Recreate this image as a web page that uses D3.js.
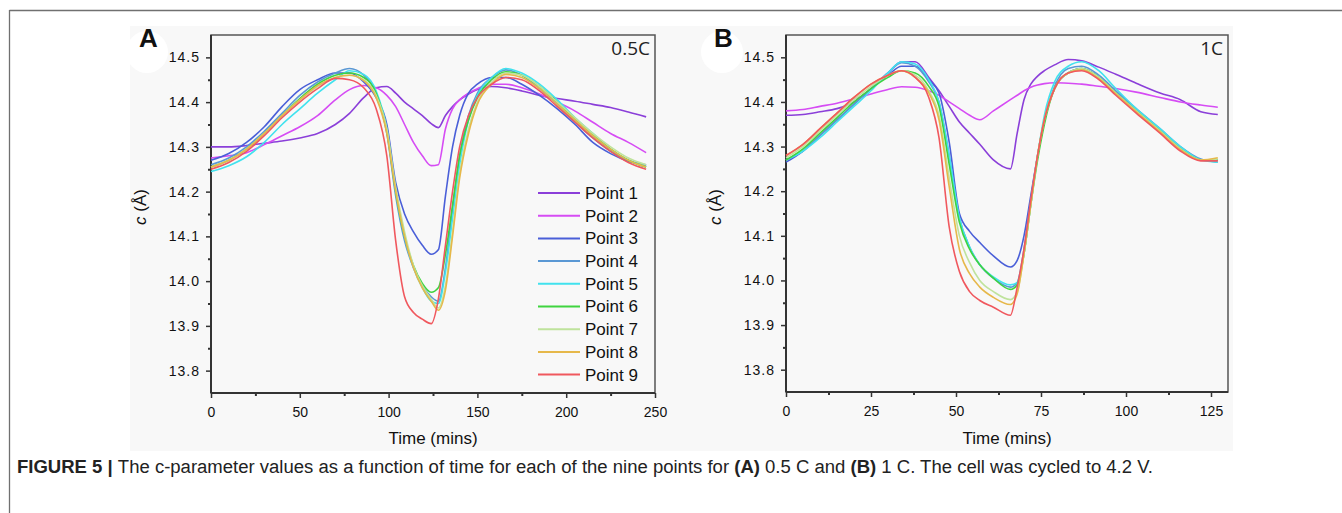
<!DOCTYPE html>
<html>
<head>
<meta charset="utf-8">
<script src="https://cdn.jsdelivr.net/npm/d3@7"></script>
<style>
  body { margin: 0; background: #fff; }
  svg { display: block; font-family: Arial, "Liberation Sans", sans-serif; }
</style>
</head>
<body>
<div id="chart"></div>
<script>
// ---- data ----
var seriesNames = ["Point 1", "Point 2", "Point 3", "Point 4", "Point 5", "Point 6", "Point 7", "Point 8", "Point 9"];
var seriesColors = ["#8b3fd9", "#d64cf4", "#4a5fd8", "#5a98d4", "#41e2ee", "#3fd43f", "#bfe39c", "#e6b84a", "#f0585e"];

var yTicks = [13.8, 13.9, 14.0, 14.1, 14.2, 14.3, 14.4, 14.5];
var xTicksA = [0, 50, 100, 150, 200, 250];
var xTicksB = [0, 25, 50, 75, 100, 125];

// panel A, 0.5C (time in mins)
var timeA = [0, 10, 20, 30, 40, 50, 60, 70, 78, 86, 93, 99, 104, 109, 114, 119, 124, 128, 132, 136, 140, 145, 150, 158, 166, 175, 185, 195, 205, 215, 225, 235, 245];
var cA = [
  [14.300,14.300,14.303,14.308,14.313,14.320,14.330,14.350,14.375,14.410,14.432,14.435,14.420,14.400,14.385,14.370,14.352,14.343,14.370,14.390,14.405,14.418,14.428,14.435,14.432,14.425,14.415,14.408,14.402,14.395,14.388,14.378,14.367],
  [14.275,14.280,14.287,14.305,14.325,14.345,14.370,14.405,14.428,14.437,14.432,14.415,14.390,14.350,14.310,14.280,14.258,14.260,14.340,14.385,14.405,14.420,14.430,14.440,14.440,14.432,14.418,14.400,14.380,14.355,14.330,14.310,14.287],
  [14.270,14.285,14.310,14.345,14.390,14.428,14.450,14.465,14.465,14.445,14.410,14.350,14.220,14.150,14.110,14.080,14.060,14.070,14.190,14.300,14.370,14.420,14.440,14.455,14.455,14.440,14.415,14.385,14.350,14.310,14.285,14.268,14.260],
  [14.260,14.275,14.300,14.335,14.375,14.415,14.445,14.465,14.475,14.460,14.420,14.330,14.190,14.090,14.030,13.990,13.965,13.955,14.030,14.160,14.280,14.370,14.420,14.455,14.472,14.460,14.430,14.395,14.355,14.320,14.290,14.270,14.258],
  [14.245,14.258,14.278,14.310,14.350,14.385,14.420,14.450,14.470,14.462,14.425,14.340,14.200,14.100,14.030,13.985,13.955,13.950,14.020,14.140,14.260,14.360,14.415,14.455,14.475,14.465,14.440,14.405,14.365,14.330,14.295,14.270,14.255],
  [14.255,14.270,14.295,14.330,14.370,14.408,14.440,14.460,14.465,14.455,14.420,14.335,14.200,14.100,14.035,13.995,13.975,13.985,14.060,14.170,14.280,14.360,14.410,14.450,14.468,14.460,14.435,14.400,14.360,14.325,14.295,14.270,14.255],
  [14.255,14.270,14.295,14.330,14.370,14.405,14.435,14.455,14.460,14.450,14.415,14.340,14.210,14.110,14.035,13.990,13.960,13.940,13.990,14.110,14.240,14.340,14.400,14.445,14.465,14.460,14.435,14.400,14.365,14.330,14.300,14.275,14.260],
  [14.255,14.270,14.295,14.330,14.370,14.405,14.437,14.455,14.460,14.448,14.410,14.330,14.200,14.100,14.030,13.985,13.955,13.935,13.980,14.100,14.230,14.330,14.395,14.440,14.462,14.455,14.430,14.395,14.360,14.325,14.295,14.270,14.255],
  [14.250,14.265,14.290,14.325,14.365,14.400,14.430,14.453,14.450,14.432,14.385,14.280,14.090,13.965,13.930,13.915,13.905,13.960,14.080,14.200,14.300,14.370,14.410,14.440,14.455,14.450,14.425,14.390,14.355,14.320,14.290,14.265,14.250]
];

// panel B, 1C (time in mins)
var timeB = [0, 5, 10, 15, 20, 25, 30, 34, 38, 42, 45, 48, 51, 54, 57, 61, 66, 68, 70, 72, 74, 76, 79, 83, 87, 92, 97, 103, 110, 116, 122, 127];
var cB = [
  [14.370,14.372,14.378,14.385,14.400,14.430,14.465,14.490,14.490,14.455,14.425,14.390,14.355,14.330,14.305,14.270,14.250,14.330,14.405,14.440,14.458,14.470,14.483,14.495,14.492,14.478,14.462,14.442,14.420,14.405,14.378,14.372],
  [14.380,14.383,14.390,14.397,14.407,14.418,14.428,14.434,14.433,14.425,14.415,14.400,14.385,14.370,14.360,14.380,14.405,14.415,14.425,14.433,14.438,14.441,14.443,14.442,14.440,14.435,14.430,14.422,14.410,14.400,14.393,14.388],
  [14.265,14.290,14.325,14.360,14.395,14.430,14.460,14.480,14.480,14.450,14.420,14.310,14.150,14.110,14.085,14.055,14.030,14.045,14.100,14.190,14.280,14.360,14.430,14.465,14.475,14.455,14.420,14.380,14.335,14.295,14.270,14.270],
  [14.270,14.290,14.325,14.360,14.395,14.430,14.465,14.488,14.480,14.445,14.400,14.280,14.140,14.075,14.035,14.005,13.985,13.995,14.070,14.180,14.280,14.360,14.435,14.475,14.480,14.460,14.425,14.385,14.340,14.300,14.272,14.265],
  [14.270,14.290,14.320,14.355,14.390,14.425,14.465,14.490,14.485,14.450,14.400,14.280,14.140,14.075,14.035,14.008,13.990,13.995,14.060,14.170,14.280,14.370,14.445,14.480,14.490,14.470,14.430,14.385,14.340,14.300,14.270,14.265],
  [14.270,14.295,14.330,14.365,14.400,14.430,14.455,14.470,14.465,14.435,14.390,14.260,14.130,14.070,14.035,14.005,13.980,13.990,14.060,14.170,14.270,14.350,14.430,14.465,14.475,14.455,14.420,14.380,14.335,14.295,14.270,14.270],
  [14.275,14.300,14.335,14.370,14.405,14.435,14.460,14.470,14.460,14.425,14.370,14.230,14.100,14.040,14.000,13.975,13.957,13.975,14.060,14.170,14.280,14.360,14.430,14.465,14.475,14.455,14.420,14.380,14.335,14.295,14.270,14.272],
  [14.280,14.305,14.340,14.375,14.410,14.440,14.460,14.470,14.455,14.420,14.360,14.210,14.070,14.015,13.985,13.962,13.946,13.970,14.060,14.170,14.280,14.360,14.430,14.465,14.472,14.452,14.418,14.378,14.333,14.293,14.270,14.275],
  [14.280,14.305,14.340,14.375,14.410,14.440,14.460,14.470,14.455,14.410,14.320,14.120,14.020,13.975,13.955,13.940,13.922,13.985,14.070,14.180,14.280,14.360,14.430,14.465,14.470,14.450,14.415,14.375,14.330,14.290,14.268,14.268]
];

// ---- drawing ----
var width = 1342, height = 513;

var svg = d3.select("#chart")
  .append("svg")
  .attr("width", width)
  .attr("height", height);

// page frame (top + left rule)
svg.append("line")
  .attr("x1", 9.5).attr("x2", width).attr("y1", 10.5).attr("y2", 10.5)
  .style("stroke", "#707070").style("stroke-width", 1.3);
svg.append("line")
  .attr("x1", 9.5).attr("x2", 9.5).attr("y1", 10).attr("y2", height)
  .style("stroke", "#707070").style("stroke-width", 1.3);

// light grey picture area
svg.append("rect")
  .attr("x", 130).attr("y", 26).attr("width", 1103).attr("height", 425)
  .style("fill", "#f8f8f8");

var panels = [
  { label: "A", rate: "0.5C", time: timeA, values: cA, xDomain: [0, 250], xTicks: xTicksA,
    left: 211, right: 655, top: 35, bottom: 393, labelX: 139, rateX: 650, legend: true },
  { label: "B", rate: "1C", time: timeB, values: cB, xDomain: [0, 130], xTicks: xTicksB,
    left: 786, right: 1228, top: 35, bottom: 392, labelX: 714, rateX: 1223, legend: false }
];

panels.forEach(function(p) {
  var g = svg.append("g");

  // white blob behind panel letter
  g.append("circle")
    .attr("cx", p.labelX + 8).attr("cy", 52).attr("r", 21)
    .style("fill", "#ffffff");

  var x = d3.scaleLinear().domain(p.xDomain).range([p.left, p.right]);
  var y = d3.scaleLinear().domain([13.75, 14.55]).range([p.bottom, p.top]);

  // frame
  g.append("rect")
    .attr("x", p.left).attr("y", p.top)
    .attr("width", p.right - p.left).attr("height", p.bottom - p.top)
    .style("fill", "none").style("stroke", "#555").style("stroke-width", 1.5);

  var xMinor = d3.pairs(p.xTicks).map(function(d) { return (d[0] + d[1]) / 2; });
  var yMinor = d3.pairs(yTicks).map(function(d) { return (d[0] + d[1]) / 2; });

  // minor ticks
  g.append("g")
    .attr("transform", "translate(0," + p.bottom + ")")
    .call(d3.axisBottom(x).tickValues(xMinor).tickSize(3).tickFormat(""))
    .call(function(a) { a.select(".domain").remove(); a.selectAll("line").style("stroke", "#333").style("stroke-width", 2); });
  g.append("g")
    .attr("transform", "translate(" + p.left + ",0)")
    .call(d3.axisLeft(y).tickValues(yMinor).tickSize(3).tickFormat(""))
    .call(function(a) { a.select(".domain").remove(); a.selectAll("line").style("stroke", "#333").style("stroke-width", 2); });

  // major ticks + labels
  var xAxis = g.append("g")
    .attr("transform", "translate(0," + p.bottom + ")")
    .call(d3.axisBottom(x).tickValues(p.xTicks).tickSize(5).tickPadding(9));
  xAxis.select(".domain").remove();
  xAxis.selectAll("line").style("stroke", "#333").style("stroke-width", 1.5);
  xAxis.selectAll("text").style("font-size", "14px").style("fill", "#111")
    .style("font-family", "Arial, 'Liberation Sans', sans-serif");

  var yAxis = g.append("g")
    .attr("transform", "translate(" + p.left + ",0)")
    .call(d3.axisLeft(y).tickValues(yTicks).tickSize(5).tickPadding(6).tickFormat(d3.format(".1f")));
  yAxis.select(".domain").remove();
  yAxis.selectAll("line").style("stroke", "#333").style("stroke-width", 1.5);
  yAxis.selectAll("text").style("font-size", "14px").style("fill", "#111")
    .style("letter-spacing", "1px")
    .style("font-family", "Arial, 'Liberation Sans', sans-serif");

  // heavier left and bottom axis lines
  g.append("line")
    .attr("x1", p.left).attr("x2", p.left).attr("y1", p.top).attr("y2", p.bottom)
    .style("stroke", "#333").style("stroke-width", 2);
  g.append("line")
    .attr("x1", p.left).attr("x2", p.right).attr("y1", p.bottom).attr("y2", p.bottom)
    .style("stroke", "#333").style("stroke-width", 2);

  // series lines
  var line = d3.line()
    .x(function(d) { return x(d[0]); })
    .y(function(d) { return y(d[1]); })
    .curve(d3.curveMonotoneX);

  p.values.forEach(function(vals, i) {
    var pts = vals.map(function(v, j) { return [p.time[j], v]; });
    g.append("path")
      .datum(pts)
      .attr("d", line)
      .style("fill", "none")
      .style("stroke", seriesColors[i])
      .style("stroke-width", 1.6)
      .style("stroke-linejoin", "round");
  });

  // texts
  g.append("text")
    .attr("x", p.labelX).attr("y", 47)
    .style("font-size", "26px").style("font-weight", "bold").style("fill", "#111")
    .text(p.label);

  g.append("text")
    .attr("x", p.rateX).attr("y", 55)
    .attr("text-anchor", "end")
    .style("font-size", "19px").style("fill", "#222")
    .style("font-family", "'Open Sans', 'Noto Sans', sans-serif")
    .text(p.rate);

  g.append("text")
    .attr("x", (p.left + p.right) / 2).attr("y", 444)
    .attr("text-anchor", "middle")
    .style("font-size", "17px").style("fill", "#111")
    .text("Time (mins)");

  var yTitle = g.append("text")
    .attr("transform", "translate(" + (p.left - 65) + ",207) rotate(-90)")
    .attr("text-anchor", "middle")
    .style("font-size", "17px").style("fill", "#111");
  yTitle.append("tspan").style("font-style", "italic").text("c");
  yTitle.append("tspan").text(" (Å)");

  if (p.legend) {
    var leg = g.selectAll(".leg")
      .data(seriesNames)
      .join("g")
      .attr("class", "leg")
      .attr("transform", function(d, i) { return "translate(538," + (193 + i * 22.7) + ")"; });
    leg.append("line")
      .attr("x1", 0).attr("x2", 42)
      .style("stroke", function(d, i) { return seriesColors[i]; })
      .style("stroke-width", 2);
    leg.append("text")
      .attr("x", 47).attr("dy", "0.35em")
      .style("font-size", "17px").style("fill", "#111")
      .text(function(d) { return d; });
  }
});

// caption
var cap = svg.append("text")
  .attr("x", 17).attr("y", 473)
  .attr("textLength", 1136)
  .attr("lengthAdjust", "spacingAndGlyphs")
  .style("font-size", "18px").style("fill", "#222")
  .style("font-family", "'Liberation Sans Narrow', 'Arial Narrow', Arial, sans-serif");
cap.append("tspan").style("font-weight", "bold").text("FIGURE 5 | ");
cap.append("tspan").text("The c-parameter values as a function of time for each of the nine points for ");
cap.append("tspan").style("font-weight", "bold").text("(A)");
cap.append("tspan").text(" 0.5 C and ");
cap.append("tspan").style("font-weight", "bold").text("(B)");
cap.append("tspan").text(" 1 C. The cell was cycled to 4.2 V.");
</script>
</body>
</html>
